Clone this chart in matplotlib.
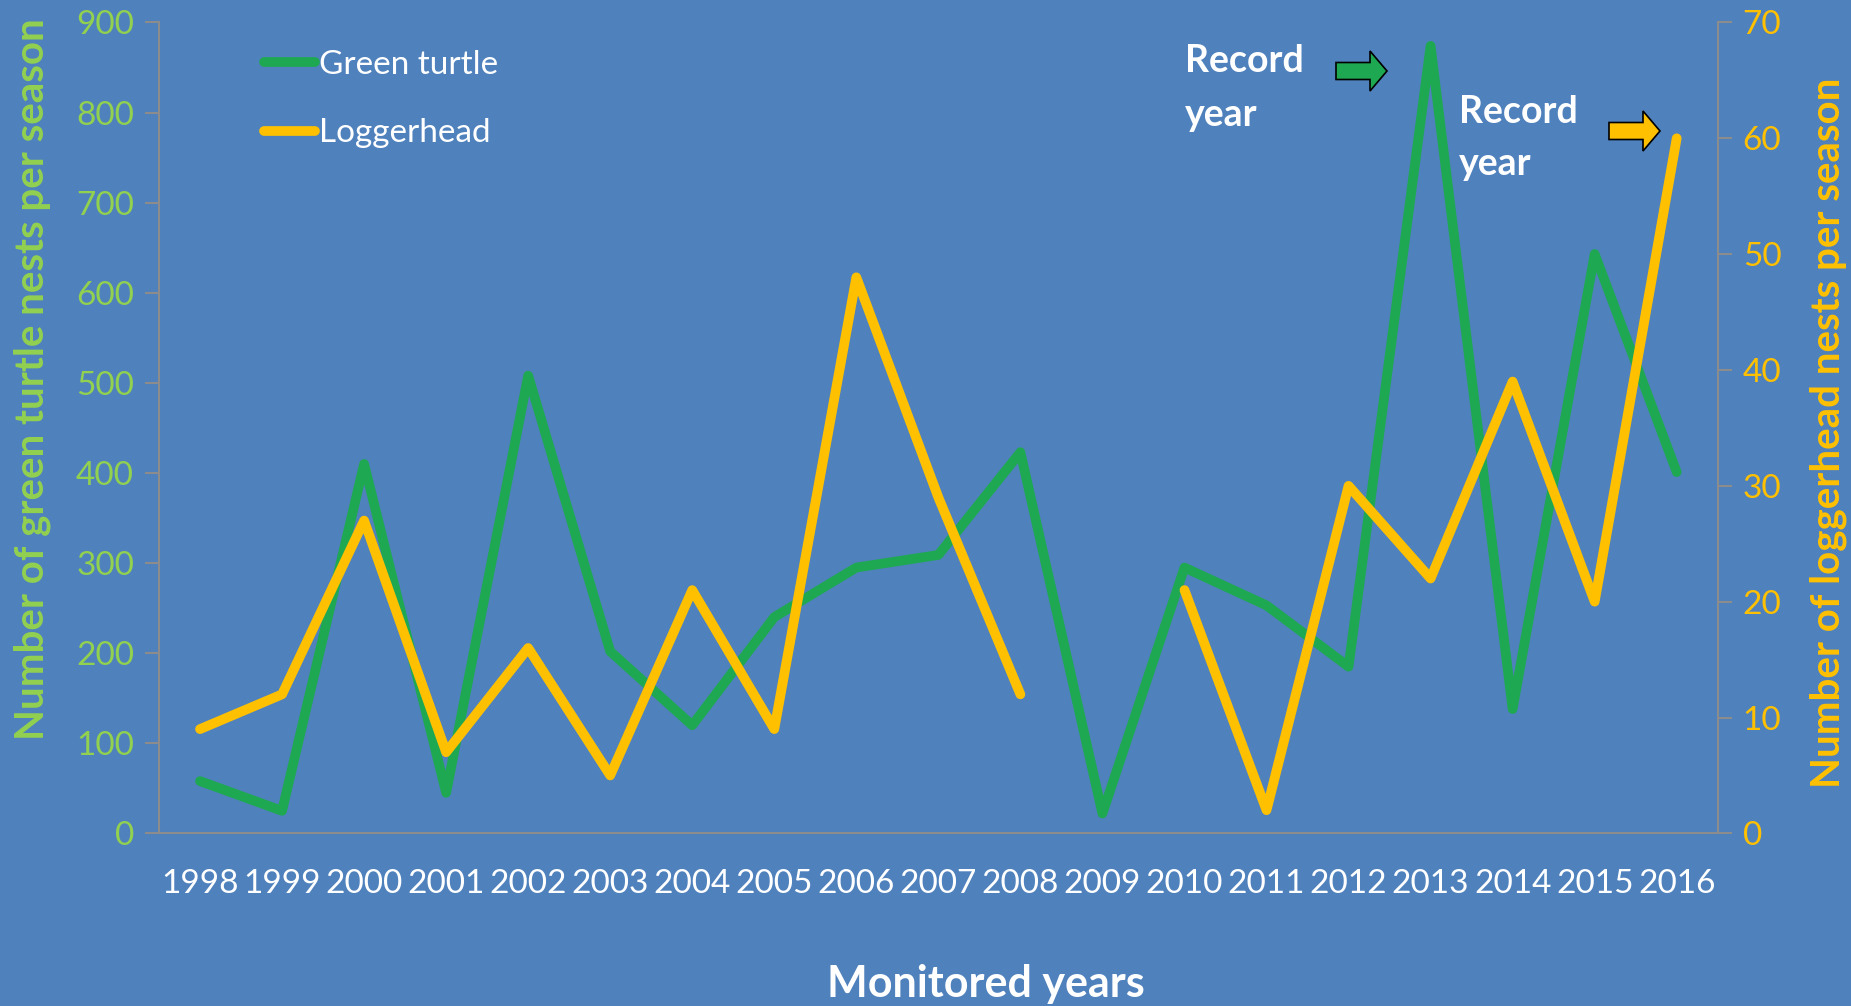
import numpy as np
import matplotlib.pyplot as plt
from matplotlib.patches import FancyArrow
from matplotlib.transforms import IdentityTransform

years = [str(y) for y in range(1998, 2017)]
green = [58, 25, 410, 45, 508, 202, 120, 240, 295, 309, 423, 22, 295, 253, 185, 874, 138, 643, 401]
logger = [9, 12, 27, 7, 16, 5, 21, 9, 48, 29, 12, np.nan, 21, 2, 30, 22, 39, 20, 60]

bg = "#4F81BD"
green_col = "#1FA852"
yellow_col = "#FFC000"
lgreen = "#92D050"
grey = "#8C8C8C"

plt.rcParams['font.family'] = ['Lato', 'DejaVu Sans']

fig = plt.figure(figsize=(18.51, 10.06), dpi=100, facecolor=bg)
ax = fig.add_axes([0.0859, 0.1716, 0.8421, 0.8061])
ax.set_facecolor(bg)
ax2 = ax.twinx()

x = np.arange(len(years))
l1, = ax.plot(x, green, color=green_col, lw=7, solid_capstyle='round', solid_joinstyle='round', label="Green turtle")
l2, = ax2.plot(x, logger, color=yellow_col, lw=7, solid_capstyle='round', solid_joinstyle='round', label="Loggerhead")

ax.set_xlim(-0.5, len(years) - 0.5)
ax.set_ylim(0, 900)
ax2.set_ylim(0, 70)
ax.set_yticks(range(0, 901, 100))
ax2.set_yticks(range(0, 71, 10))
ax.set_xticks(x)
ax.set_xticklabels(years)

for a in (ax, ax2):
    for s in a.spines.values():
        s.set_color(grey)
        s.set_linewidth(1.5)
    a.spines['top'].set_visible(False)
ax.spines['right'].set_visible(False)
ax2.spines['left'].set_visible(False)
ax2.spines['bottom'].set_visible(False)

ax.tick_params(axis='y', colors=grey, labelcolor=lgreen, labelsize=24, length=10, width=1.5, pad=8)
ax.tick_params(axis='x', length=0, labelcolor='white', labelsize=24, pad=26)
ax2.tick_params(axis='y', colors=grey, labelcolor=yellow_col, labelsize=24, length=10, width=1.5, pad=8)

ax.set_ylabel("Number of green turtle nests per season", color=lgreen, fontsize=29, fontweight='bold')
ax.yaxis.set_label_coords(-0.069, 0.56)
ax2.set_ylabel("Number of loggerhead nests per season", color=yellow_col, fontsize=29, fontweight='bold',
               rotation=90)
ax2.yaxis.set_label_coords(1.0587, 0.494)

fig.text(986, 9, "Monitored years", transform=IdentityTransform(), color='white', fontsize=31,
         fontweight='bold', ha='center', va='baseline')

leg = ax.legend(handles=[l1, l2], loc='upper left', bbox_to_anchor=(0.048, 1.003), frameon=False,
                fontsize=24, labelcolor='white', handlelength=1.55, handletextpad=0.1, labelspacing=1.15)

# annotations
fig.text(1185, 1006 - 44, "Record\nyear", transform=IdentityTransform(), color='white', fontsize=27,
         fontweight='bold', va='top', ha='left', linespacing=1.7)
fig.text(1459, 1006 - 95, "Record\nyear", transform=IdentityTransform(), color='white', fontsize=27,
         fontweight='bold', va='top', ha='left', linespacing=1.65)
for x0, y0, col in [(1336, 1006 - 71, green_col), (1609, 1006 - 131, yellow_col)]:
    fig.patches.append(FancyArrow(x0, y0, 51, 0, width=17, head_width=40, head_length=17,
                                  length_includes_head=True, transform=IdentityTransform(),
                                  facecolor=col, edgecolor='black', linewidth=1.2))

fig.savefig("out.png", dpi=100, facecolor=bg)
